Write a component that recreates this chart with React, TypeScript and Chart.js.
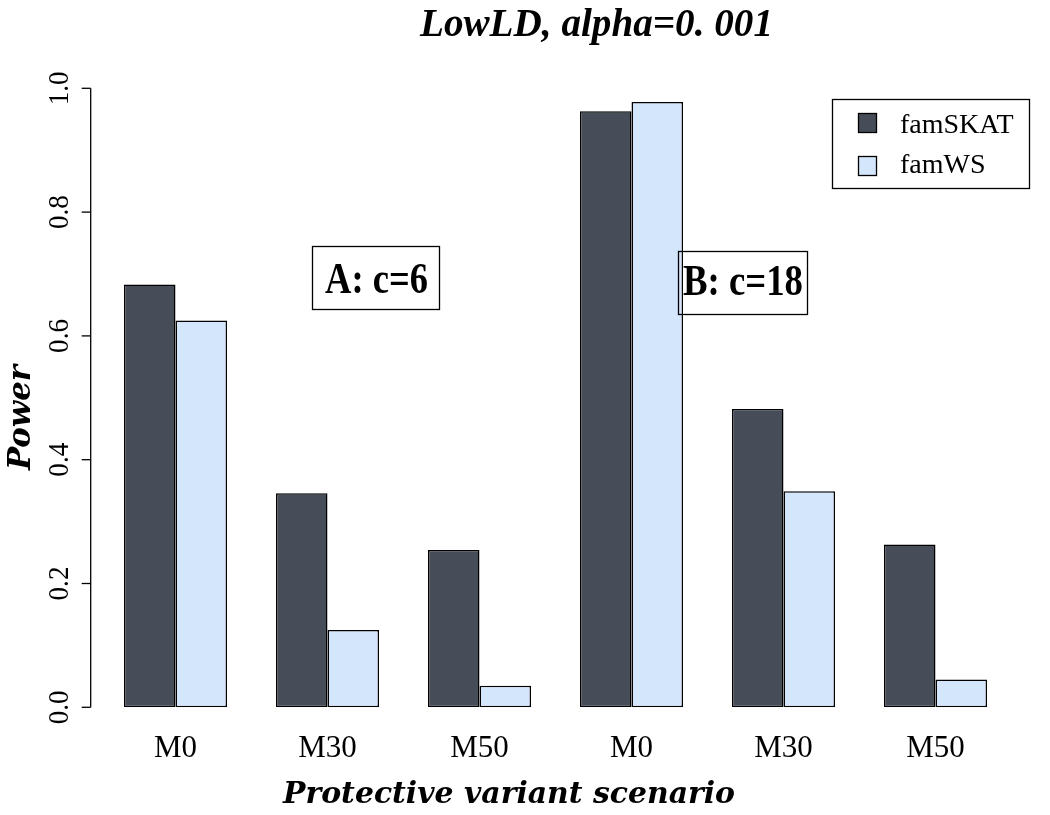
import React, { useEffect, useRef } from "react";
import { Chart, registerables } from "chart.js";

Chart.register(...registerables);

// ---- data ----
const categories = ["M0", "M30", "M50", "M0", "M30", "M50"];
const seriesNames = ["famSKAT", "famWS"];
const famSKAT = [0.683, 0.346, 0.254, 0.963, 0.482, 0.263];
const famWS = [0.625, 0.125, 0.035, 0.978, 0.349, 0.045];
const yTickValues = [0, 0.2, 0.4, 0.6, 0.8, 1.0];
const yTickLabels = ["0.0", "0.2", "0.4", "0.6", "0.8", "1.0"];
const chartTitle = "LowLD, alpha=0. 001";
const xTitle = "Protective variant scenario";
const yTitle = "Power";
const panelLabels = ["A: c=6", "B: c=18"];

const DARK = "#474c59";
const LIGHT = "#d4e6fc";
const EDGE = "#000000";

function drawFitText(
  ctx: CanvasRenderingContext2D,
  text: string,
  x: number,
  y: number,
  font: string,
  targetW: number | null,
  rotate = false
) {
  ctx.save();
  ctx.font = font;
  const w = ctx.measureText(text).width;
  const s = targetW ? targetW / w : 1;
  ctx.translate(x, y);
  if (rotate) ctx.rotate(-Math.PI / 2);
  ctx.scale(s, 1);
  ctx.textAlign = "center";
  ctx.textBaseline = "alphabetic";
  ctx.fillStyle = "#000";
  ctx.fillText(text, 0, 0);
  ctx.restore();
}

const decorPlugin = {
  id: "decor",
  afterDraw(chart: any) {
    const ctx: CanvasRenderingContext2D = chart.ctx;
    const y = chart.scales.y;
    ctx.save();
    // y axis
    const axX = 90.7;
    ctx.strokeStyle = "#000";
    ctx.lineWidth = 1.3;
    ctx.beginPath();
    ctx.moveTo(axX, y.getPixelForValue(yTickValues[0]));
    ctx.lineTo(axX, y.getPixelForValue(yTickValues[yTickValues.length - 1]));
    ctx.stroke();
    yTickValues.forEach((v, i) => {
      const py = y.getPixelForValue(v);
      ctx.beginPath();
      ctx.moveTo(axX, py);
      ctx.lineTo(axX - 9, py);
      ctx.stroke();
      drawFitText(ctx, yTickLabels[i], 68, py, "30px 'Liberation Serif'", 34, true);
    });

    // titles
    drawFitText(ctx, chartTitle, 596.5, 36, "italic bold 39px 'Liberation Serif'", 353);
    drawFitText(ctx, xTitle, 509, 802.7, "italic bold 29px 'DejaVu Serif'", 452);
    drawFitText(ctx, yTitle, 30, 417.5, "italic bold 32px 'DejaVu Serif'", 105, true);

    // panel labels
    ctx.lineWidth = 1.3;
    ctx.strokeStyle = "#000";
    ctx.strokeRect(312.5, 246.5, 127, 63);
    drawFitText(ctx, panelLabels[0], 376.5, 293, "bold 45px 'Liberation Serif'", 103);
    ctx.strokeRect(678.5, 251.5, 129, 63);
    drawFitText(ctx, panelLabels[1], 743, 295, "bold 45px 'Liberation Serif'", 120);

    // legend
    ctx.strokeRect(832.5, 99.5, 197, 89);
    ctx.fillStyle = DARK;
    ctx.fillRect(858.5, 113.5, 18, 19);
    ctx.strokeRect(858.5, 113.5, 18, 19);
    ctx.fillStyle = LIGHT;
    ctx.fillRect(858.5, 156.5, 18, 19);
    ctx.strokeRect(858.5, 156.5, 18, 19);
    ctx.fillStyle = "#000";
    ctx.font = "28px 'Liberation Serif'";
    ctx.textAlign = "left";
    ctx.textBaseline = "alphabetic";
    ctx.fillText(seriesNames[0], 900, 133.3);
    ctx.fillText(seriesNames[1], 900, 173.3);
    ctx.restore();
  },
};

export default function App() {
  const ref = useRef<HTMLCanvasElement | null>(null);
  useEffect(() => {
    if (!ref.current) return;
    const common = {
      borderColor: EDGE,
      borderWidth: 1.5,
      borderSkipped: false,
      categoryPercentage: 0.678,
      barPercentage: 1,
    };
    const chart = new Chart(ref.current, {
      type: "bar",
      data: {
        labels: categories,
        datasets: [
          { label: seriesNames[0], data: famSKAT, backgroundColor: DARK, ...common },
          { label: seriesNames[1], data: famWS, backgroundColor: LIGHT, ...common },
        ],
      },
      options: {
        responsive: false,
        maintainAspectRatio: false,
        animation: false,
        devicePixelRatio: 1,
        layout: { padding: { left: 99.5, right: 38.5, top: 88.3, bottom: 57.7 } },
        plugins: {
          legend: { display: false },
          title: { display: false },
          tooltip: { enabled: false },
        },
        scales: {
          x: {
            grid: { display: false, drawTicks: false },
            border: { display: false },
            ticks: {
              font: { family: "'Liberation Serif'", size: 31 },
              color: "#000",
              padding: 23,
              maxRotation: 0,
              autoSkip: false,
            },
            afterFit: (s: any) => {
              s.height = 50;
            },
          },
          y: { display: false, min: 0, max: 1 },
        },
      },
      plugins: [decorPlugin],
    } as any);
    return () => chart.destroy();
  }, []);
  return (
    <div style={{ position: "fixed", left: 0, top: 0, width: 1050, height: 815, background: "#fff" }}>
      <canvas ref={ref} width={1050} height={815} style={{ display: "block" }} />
    </div>
  );
}
